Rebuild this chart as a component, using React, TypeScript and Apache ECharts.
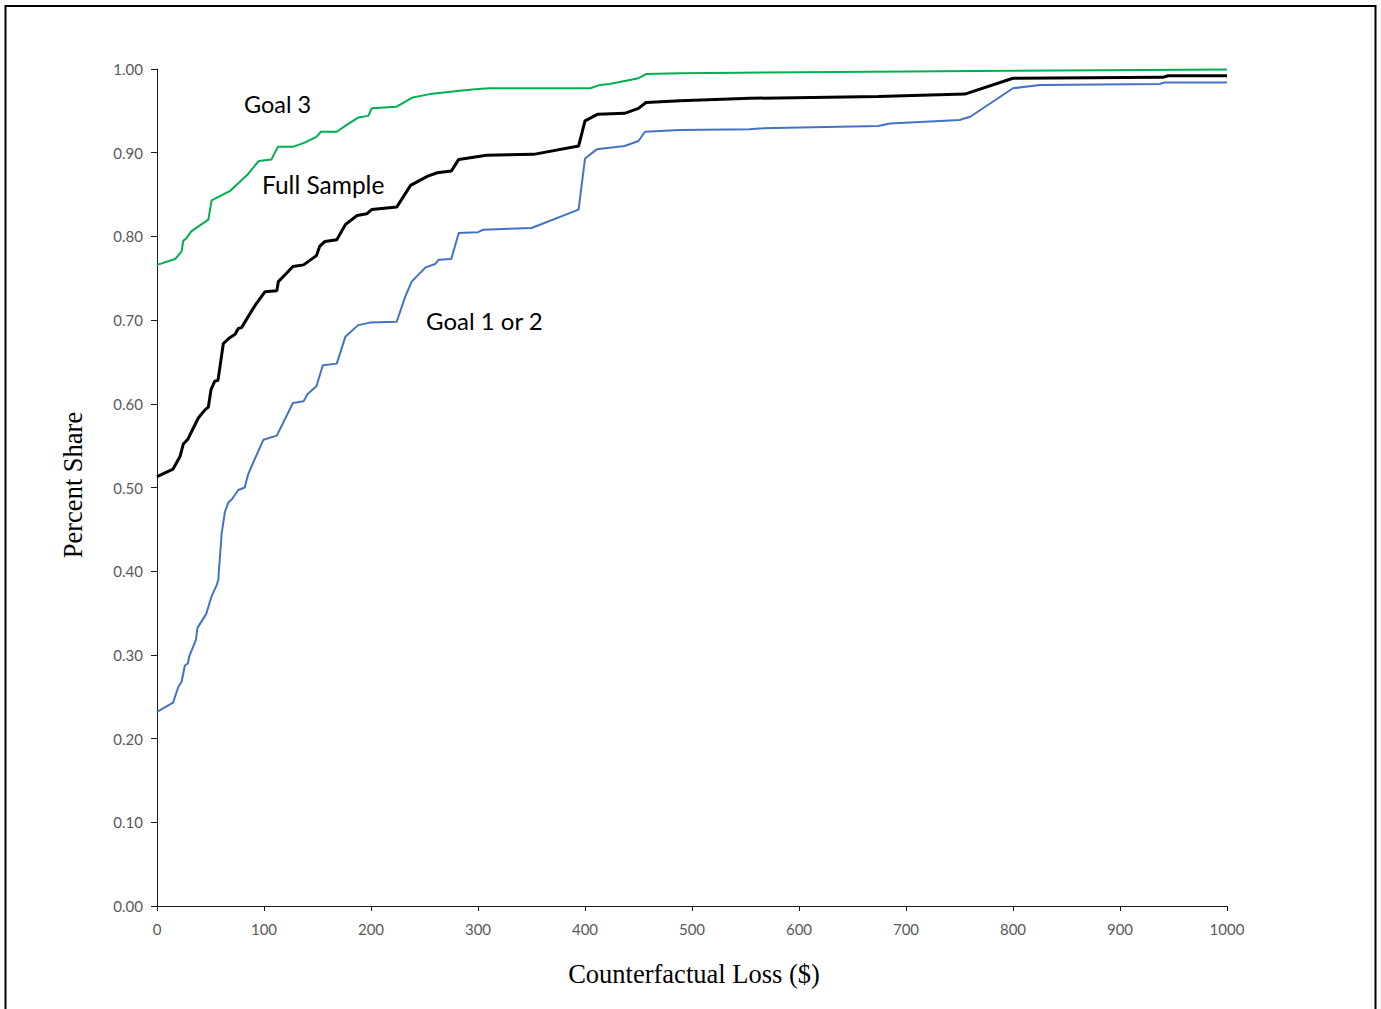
import React, { useEffect, useRef } from "react";
import * as echarts from "echarts";

const goal3X = [0, 17, 23, 24.6, 27, 32, 48, 51, 68, 84, 95, 107, 113, 127, 138, 149, 153, 168, 177, 188, 197.5, 200.6, 224, 239, 255, 283, 300, 311, 405, 414, 423, 450, 457, 489, 600, 800, 1000];
const goal3Y = [0.766, 0.773, 0.782, 0.795, 0.797, 0.806, 0.82, 0.843, 0.854, 0.873, 0.89, 0.892, 0.907, 0.907, 0.912, 0.919, 0.925, 0.925, 0.933, 0.942, 0.944, 0.953, 0.955, 0.966, 0.97, 0.974, 0.976, 0.977, 0.977, 0.981, 0.982, 0.989, 0.994, 0.995, 0.996, 0.998, 0.9995];

const fullX = [0, 15, 18, 21.5, 24.6, 29, 32, 38.6, 45, 48, 50.5, 54, 57, 62, 68, 73, 76, 79, 87, 93, 101, 112, 113.4, 121, 127, 137, 149, 152, 157, 168, 176, 187, 196, 200.6, 224, 237, 253, 262, 275, 282, 308, 352, 394, 400, 412, 437, 450, 457, 489, 554, 674, 755, 800, 940, 945, 1000];
const fullY = [0.513, 0.522, 0.529, 0.537, 0.552, 0.558, 0.566, 0.583, 0.593, 0.596, 0.617, 0.627, 0.628, 0.672, 0.679, 0.683, 0.69, 0.691, 0.708, 0.72, 0.734, 0.735, 0.746, 0.756, 0.764, 0.766, 0.777, 0.788, 0.794, 0.796, 0.814, 0.825, 0.827, 0.832, 0.835, 0.861, 0.872, 0.876, 0.878, 0.892, 0.897, 0.898, 0.908, 0.938, 0.946, 0.947, 0.953, 0.96, 0.962, 0.965, 0.967, 0.97, 0.989, 0.99, 0.992, 0.992];

const goal12X = [0, 15, 20, 23, 26, 29, 30, 36.4, 37.7, 46, 51, 56, 57.3, 60.4, 63.5, 66.6, 70, 76, 82, 85, 90, 99.4, 112, 127, 137, 141, 149, 155, 168, 176, 188, 199, 224, 232, 238, 251, 260, 263, 275, 282, 300, 305, 350, 394, 400, 411, 437, 450, 456, 489, 554, 563, 674, 685, 750, 760, 800, 825, 937, 942, 1000];
const goal12Y = [0.232, 0.243, 0.262, 0.268, 0.287, 0.29, 0.298, 0.318, 0.332, 0.349, 0.37, 0.384, 0.39, 0.445, 0.471, 0.482, 0.486, 0.497, 0.5, 0.515, 0.53, 0.557, 0.562, 0.601, 0.603, 0.612, 0.621, 0.646, 0.648, 0.68, 0.694, 0.697, 0.698, 0.728, 0.746, 0.763, 0.767, 0.772, 0.773, 0.804, 0.805, 0.808, 0.81, 0.832, 0.893, 0.904, 0.908, 0.914, 0.925, 0.927, 0.928, 0.929, 0.932, 0.935, 0.939, 0.943, 0.977, 0.981, 0.982, 0.984, 0.984];

const seriesNames = ["Goal 1 or 2", "Full Sample", "Goal 3"];
const seriesLabels = ["Goal 3", "Full Sample", "Goal 1 or 2"];
const xAxisTitle = "Counterfactual Loss ($)";
const yAxisTitle = "Percent Share";

const pairs = (xs: number[], ys: number[]) => xs.map((x, i) => [x, ys[i]]);

export default function App() {
  const ref = useRef<HTMLDivElement>(null);
  useEffect(() => {
    document.body.style.margin = "0";
    const chart = echarts.init(ref.current!, null, { renderer: "svg" });
    const labelFont = "Lato, 'Noto Sans', sans-serif";
    const serif = "'Liberation Serif', 'DejaVu Serif', serif";
    chart.setOption({
      animation: false,
      backgroundColor: "#ffffff",
      grid: { left: 157, right: 154, top: 69, bottom: 103, containLabel: false },
      xAxis: {
        type: "value",
        min: 0,
        max: 1000,
        interval: 100,
        splitLine: { show: false },
        axisLine: { lineStyle: { color: "#1a1a1a", width: 1 } },
        axisTick: { show: true, length: 5, lineStyle: { color: "#1a1a1a" } },
        axisLabel: {
          color: "#595959",
          fontSize: 15,
          fontFamily: labelFont,
          margin: 15,
          formatter: (v: number) => String(v),
        },
      },
      yAxis: {
        type: "value",
        min: 0,
        max: 1,
        interval: 0.1,
        splitLine: { show: false },
        axisLine: { show: true, lineStyle: { color: "#1a1a1a", width: 1 } },
        axisTick: { show: true, length: 6, lineStyle: { color: "#1a1a1a" } },
        axisLabel: {
          color: "#595959",
          fontSize: 15,
          fontFamily: labelFont,
          margin: 14,
          formatter: (v: number) => v.toFixed(2),
        },
      },
      series: [
        {
          name: seriesNames[0],
          type: "line",
          showSymbol: false,
          data: pairs(goal12X, goal12Y),
          lineStyle: { color: "#4472C4", width: 2 },
          z: 2,
        },
        {
          name: seriesNames[1],
          type: "line",
          showSymbol: false,
          data: pairs(fullX, fullY),
          lineStyle: { color: "#000000", width: 3 },
          z: 3,
        },
        {
          name: seriesNames[2],
          type: "line",
          showSymbol: false,
          data: pairs(goal3X, goal3Y),
          lineStyle: { color: "#00B050", width: 2 },
          z: 4,
        },
      ],
      graphic: [
        {
          type: "rect",
          shape: { x: 5.5, y: 6, width: 1370, height: 1012 },
          style: { fill: "none", stroke: "#000", lineWidth: 2 },
          silent: true,
        },
        {
          type: "text",
          x: 244,
          y: 104,
          style: { text: seriesLabels[0], fontSize: 23.5, fontFamily: labelFont, fill: "#000", verticalAlign: "middle" },
        },
        {
          type: "text",
          x: 262,
          y: 184,
          style: { text: seriesLabels[1], fontSize: 24.5, fontFamily: labelFont, fill: "#000", verticalAlign: "middle" },
        },
        {
          type: "text",
          x: 426,
          y: 320,
          style: { text: seriesLabels[2], fontSize: 24, fontFamily: labelFont, fill: "#000", verticalAlign: "middle" },
        },
        {
          type: "text",
          x: 694,
          y: 974,
          style: {
            text: xAxisTitle,
            fontSize: 26.5,
            fontFamily: serif,
            fill: "#000",
            align: "center",
            verticalAlign: "middle",
          },
        },
        {
          type: "text",
          x: 73,
          y: 485,
          rotation: Math.PI / 2,
          style: {
            text: yAxisTitle,
            fontSize: 26.5,
            fontFamily: serif,
            fill: "#000",
            align: "center",
            verticalAlign: "middle",
          },
        },
      ],
    });
    return () => chart.dispose();
  }, []);
  return (
    <div
      ref={ref}
      style={{ position: "absolute", left: 0, top: 0, width: 1381, height: 1009 }}
    />
  );
}
